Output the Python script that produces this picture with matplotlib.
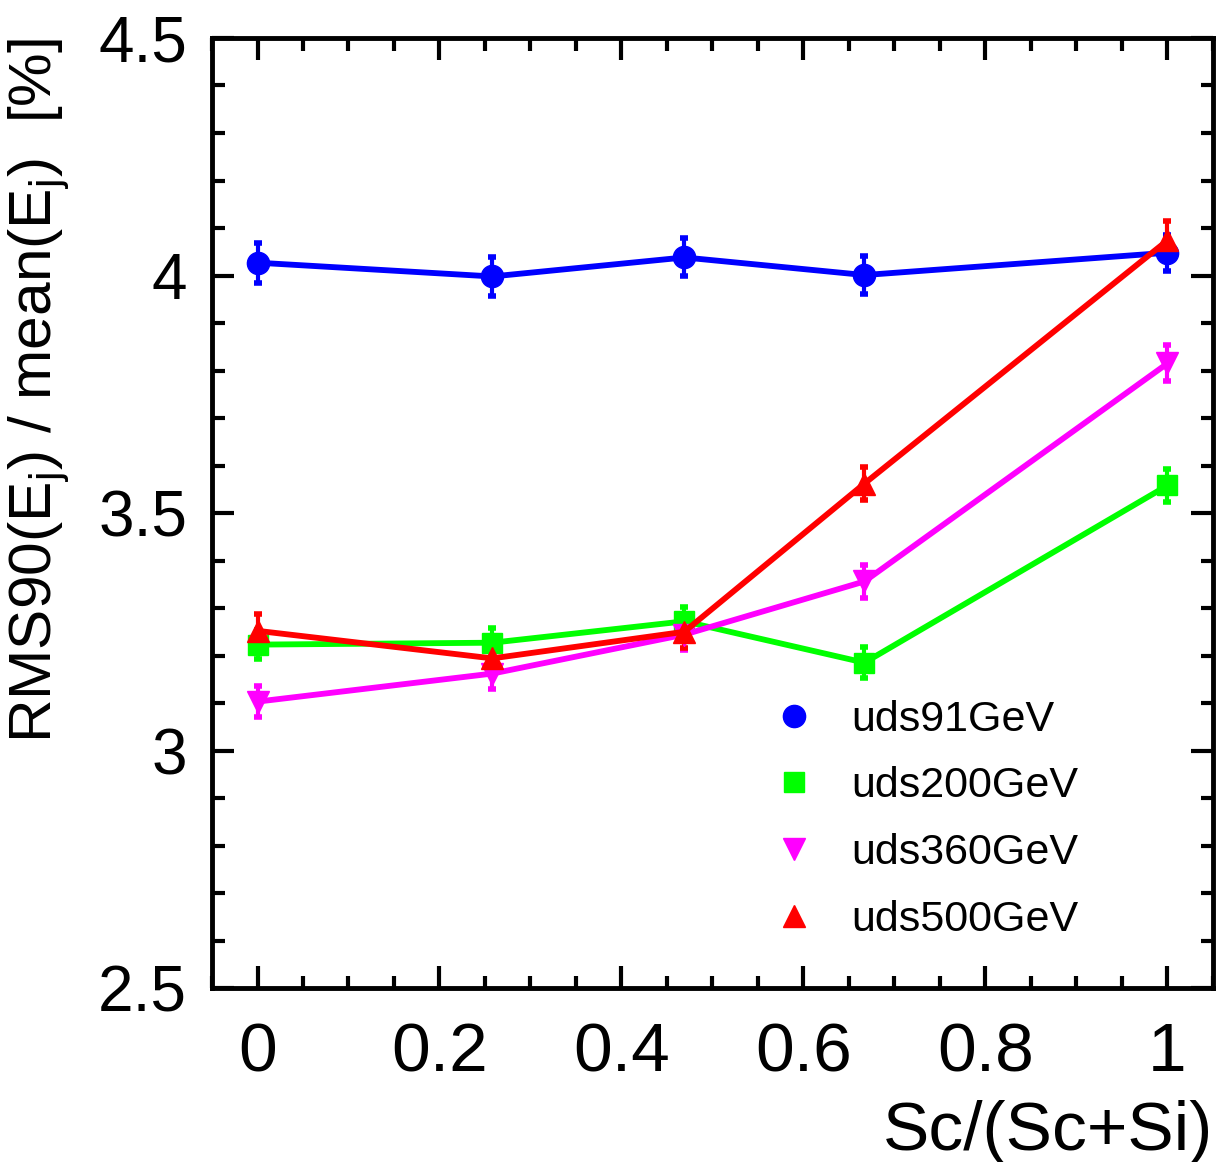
import numpy as np
import matplotlib
matplotlib.use("Agg")
import matplotlib.pyplot as plt
from matplotlib.lines import Line2D
from matplotlib.ticker import MultipleLocator

plt.rcParams["font.family"] = ["Liberation Sans", "DejaVu Sans"]
plt.rcParams["mathtext.fontset"] = "custom"
plt.rcParams["mathtext.rm"] = "Liberation Sans"
plt.rcParams["mathtext.it"] = "Liberation Sans"

# ---- data ----
frac = [0.0, 0.258, 0.469, 0.667, 1.0]
labels = ["uds91GeV", "uds200GeV", "uds360GeV", "uds500GeV"]
res_91 = [4.027, 3.998, 4.038, 4.001, 4.048]
res_200 = [3.223, 3.227, 3.272, 3.185, 3.558]
res_360 = [3.103, 3.162, 3.244, 3.356, 3.815]
res_500 = [3.252, 3.194, 3.250, 3.562, 4.074]
err_91 = [0.042, 0.042, 0.040, 0.040, 0.038]
err_200 = [0.030, 0.030, 0.030, 0.032, 0.035]
err_360 = [0.033, 0.033, 0.033, 0.035, 0.038]
err_500 = [0.035, 0.035, 0.035, 0.035, 0.040]

series = [
    (res_91, err_91, "#0000FF", "o", 16),
    (res_200, err_200, "#00FF00", "s", 15),
    (res_360, err_360, "#FF00FF", "v", 16),
    (res_500, err_500, "#FF0000", "^", 16),
]

fig = plt.figure(figsize=(12.17, 11.62), dpi=100)
ax = fig.add_axes([0.1742, 0.1497, 0.8225, 0.8176])

for (y, e, c, m, ms), lab in zip(series, labels):
    ax.errorbar(frac, y, yerr=e, color=c, marker=m, ms=ms, lw=4.2,
                elinewidth=3, capsize=3, capthick=4, mec=c, label=lab)

ax.set_xlim(-0.05, 1.05)
ax.set_ylim(2.5, 4.5)
ax.xaxis.set_minor_locator(MultipleLocator(0.05))
ax.yaxis.set_minor_locator(MultipleLocator(0.1))
ax.set_xticks([0, 0.2, 0.4, 0.6, 0.8, 1.0])
ax.set_xticklabels(["0", "0.2", "0.4", "0.6", "0.8", "1"])
ax.set_yticks([2.5, 3, 3.5, 4, 4.5])
ax.set_yticklabels(["2.5", "3", "3.5", "4", "4.5"])

ax.tick_params(which="both", direction="in", top=True, right=True, width=3)
ax.tick_params(which="major", length=16)
ax.tick_params(which="minor", length=9)
ax.tick_params(axis="y", labelsize=46, pad=18)
ax.tick_params(axis="x", labelsize=50, pad=24)
for s in ax.spines.values():
    s.set_linewidth(3.5)

ax.set_ylabel(r"RMS90(E$_{\mathrm{j}}$) / mean(E$_{\mathrm{j}}$)  [%]",
              fontsize=43.5, loc="top")
ax.yaxis.set_label_coords(-0.14, 1.0)
ax.set_xlabel("Sc/(Sc+Si)", fontsize=50, loc="right")
ax.xaxis.set_label_coords(1.0, -0.118)

handles = [Line2D([], [], ls="none", marker=m, color=c, ms=ms)
           for (_, _, c, m, ms) in series]
ax.legend(handles, labels, loc="lower left", bbox_to_anchor=(0.51, 0.01),
          frameon=False, fontsize=31, handletextpad=0.6, labelspacing=0.62,
          handlelength=1.5)

plt.savefig("out.png", dpi=100, facecolor="white")
